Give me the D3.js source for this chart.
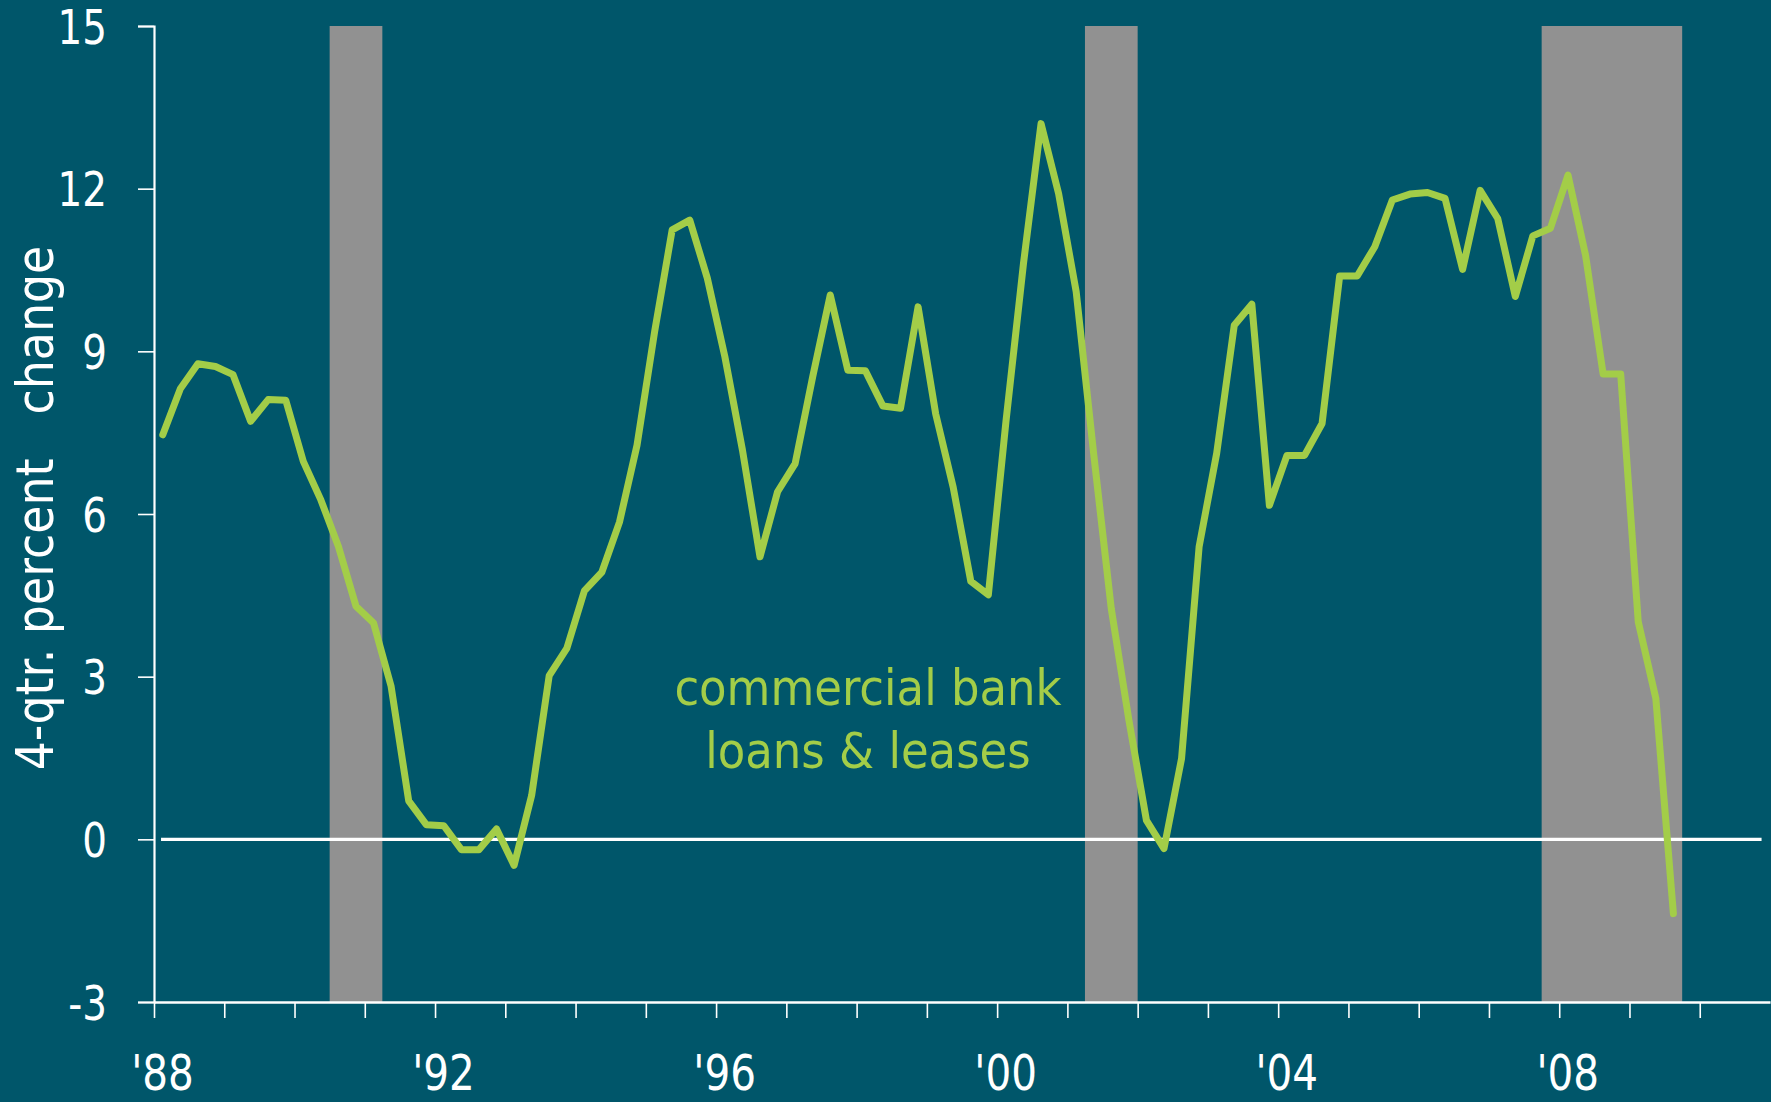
<!DOCTYPE html>
<html>
<head>
<meta charset="utf-8">
<script src="https://cdn.jsdelivr.net/npm/d3@7"></script>
<style>
  html, body { margin: 0; padding: 0; background: #00566a; }
  svg { display: block; }
  .lbl { font-family: "DejaVu Sans Condensed", "DejaVu Sans", sans-serif; font-stretch: condensed; }
</style>
</head>
<body>
<div id="chart"></div>
<script>
// 4-qtr percent change, commercial bank loans & leases, quarterly from 1988Q1
var startYear = 1988;
var loans = [
  7.46, 8.31, 8.77, 8.72,    // 1988
  8.57, 7.71, 8.11, 8.10,    // 1989
  6.97, 6.26, 5.40, 4.30,    // 1990
  3.99, 2.82, 0.71, 0.27,    // 1991
  0.25, -0.19, -0.19, 0.19,  // 1992
  -0.48, 0.81, 3.02, 3.52,   // 1993
  4.58, 4.93, 5.85, 7.27,    // 1994
  9.36, 11.24, 11.42, 10.35, // 1995
  8.90, 7.18, 5.21, 6.41,    // 1996
  6.93, 8.53, 10.04, 8.65,   // 1997
  8.64, 7.99, 7.95, 9.82,    // 1998
  7.85, 6.49, 4.76, 4.51,    // 1999
  7.70, 10.62, 13.20, 11.91, // 2000
  10.10, 7.10, 4.25, 2.20,   // 2001
  0.35, -0.17, 1.49, 5.40,   // 2002
  7.12, 9.48, 9.87, 6.16,    // 2003
  7.08, 7.08, 7.67, 10.39,   // 2004
  10.39, 10.93, 11.79, 11.90,// 2005
  11.93, 11.82, 10.51, 11.97,// 2006
  11.45, 10.01, 11.13, 11.27,// 2007
  12.25, 10.77, 8.58, 8.58,  // 2008
  4.01, 2.60, -1.37          // 2009
];
var recessions = [[1990.5, 1991.25], [2001.25, 2002.0], [2007.75, 2009.75]];
var yTicks = [-3, 0, 3, 6, 9, 12, 15];
var yearTicks = d3.range(1988, 2011);
var labelYears = [1988, 1992, 1996, 2000, 2004, 2008];
var seriesName = ["commercial bank", "loans & leases"];
var yTitle = ["4-qtr. percent", "change"];

(function(){

  var ch = {
    W: 1771, H: 1102,
    left: 154, right: 1770, top: 26, bottom: 1002,
    bg: "#00566a", band: "#919191", green: "#a3cd48",

    initialize: function() {
      ch.svg = d3.select("#chart").append("svg")
                 .attr("width", ch.W)
                 .attr("height", ch.H);

      ch.x = d3.scaleLinear().domain([1988, 2011]).range([ch.left, ch.right]);
      ch.y = d3.scaleLinear().domain([-3, 15]).range([ch.bottom, ch.top]);

      ch.data = loans.map(function(v, i) {
        return {date: startYear + (i + 0.5) / 4, value: v};
      });

      ch.line = d3.line()
                  .curve(d3.curveLinear)
                  .x(function(d){ return ch.x(d.date); })
                  .y(function(d){ return ch.y(d.value); });
    },

    draw: function() {
      var svg = ch.svg;

      svg.append("rect")
         .attr("width", ch.W).attr("height", ch.H)
         .attr("fill", ch.bg);

      // recession bands
      svg.selectAll(".band")
         .data(recessions)
         .enter().append("rect")
         .attr("class", "band")
         .attr("x", function(d){ return ch.x(d[0]); })
         .attr("width", function(d){ return ch.x(d[1]) - ch.x(d[0]); })
         .attr("y", ch.y(15))
         .attr("height", ch.y(-3) - ch.y(15))
         .attr("fill", ch.band);

      // zero line
      svg.append("line")
         .attr("x1", ch.x(1988.1)).attr("x2", ch.x(2010.88))
         .attr("y1", ch.y(0)).attr("y2", ch.y(0))
         .attr("stroke", "#ffffff")
         .attr("stroke-width", 3.2);

      // y axis
      var gy = svg.append("g")
         .attr("transform", "translate(" + ch.left + ",0)")
         .call(d3.axisLeft(ch.y).tickValues(yTicks).tickSize(16).tickPadding(31)
               .tickFormat(function(d){ return String(d); }));
      gy.select(".domain").attr("stroke", "#ffffff").attr("stroke-width", 2.2);
      gy.selectAll(".tick line").attr("stroke", "#ffffff").attr("stroke-width", 1.6);
      gy.selectAll(".tick text")
        .attr("class", "lbl")
        .attr("fill", "#ffffff")
        .attr("font-size", 48)
        .attr("x", 0)
        .attr("dy", "0.36em")
        .attr("transform", "translate(-47,0)scale(0.9,1)");

      // x axis - yearly ticks
      var gx = svg.append("g")
         .attr("transform", "translate(0," + ch.bottom + ")")
         .call(d3.axisBottom(ch.x).tickValues(yearTicks).tickSize(16).tickSizeOuter(0).tickFormat(""));
      gx.select(".domain").attr("stroke", "#ffffff").attr("stroke-width", 2.4);
      gx.selectAll(".tick line").attr("stroke", "#ffffff").attr("stroke-width", 1.6);

      // x labels every 4 years
      var gl = svg.append("g")
         .attr("transform", "translate(8," + ch.bottom + ")")
         .call(d3.axisBottom(ch.x).tickValues(labelYears).tickSize(0).tickPadding(0)
               .tickFormat(function(d){ return "'" + String(d).slice(2); }));
      gl.select(".domain").remove();
      gl.selectAll(".tick text")
        .attr("class", "lbl")
        .attr("fill", "#ffffff")
        .attr("font-size", 50)
        .attr("y", 0)
        .attr("dy", 0)
        .attr("transform", "translate(0,88)scale(0.9,1)");

      // y title
      var yt = svg.append("text")
         .attr("class", "lbl")
         .attr("transform", "translate(53,508)rotate(-90)")
         .attr("text-anchor", "middle")
         .attr("fill", "#ffffff")
         .attr("font-size", 51);
      yt.append("tspan").text(yTitle[0]);
      yt.append("tspan").attr("dx", 44).text(yTitle[1]);

      // series
      svg.append("path")
         .datum(ch.data)
         .attr("fill", "none")
         .attr("stroke", ch.green)
         .attr("stroke-width", 7)
         .attr("stroke-linejoin", "round")
         .attr("stroke-linecap", "round")
         .attr("d", ch.line);

      // series label
      svg.append("text")
         .attr("class", "lbl")
         .attr("text-anchor", "middle")
         .attr("fill", ch.green)
         .attr("font-size", 50)
         .selectAll("tspan")
         .data(seriesName)
         .enter().append("tspan")
         .attr("x", 868)
         .attr("y", function(d, i){ return 705 + i * 63; })
         .text(function(d){ return d; });
    }
  };

  ch.initialize();
  ch.draw();
  this.ch = ch;
})();
</script>
</body>
</html>
